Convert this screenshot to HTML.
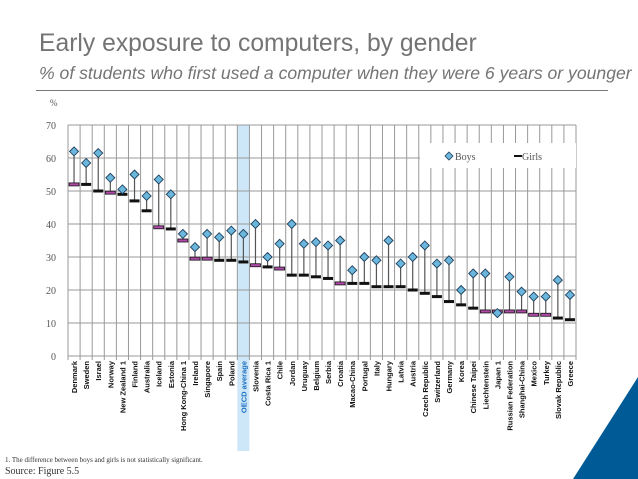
<!DOCTYPE html>
<html><head><meta charset="utf-8"><style>
body{margin:0;width:638px;height:479px;background:#fff;overflow:hidden;position:relative;font-family:"Liberation Sans",sans-serif}
.t{position:absolute;white-space:nowrap}
</style></head><body>
<div class="t" style="left:39px;top:30px;font-size:24.7px;color:#747474">Early exposure to computers, by gender</div>
<div class="t" style="left:39px;top:63px;font-size:17.6px;font-style:italic;color:#747474">% of students who first used a computer when they were 6 years or younger</div>
<div style="position:absolute;left:36px;top:90px;width:572px;height:1px;background:#777"></div>
<svg id="c" width="638" height="479" style="position:absolute;left:0;top:0"></svg>
<div class="t" style="left:5px;top:456px;font-size:7px;color:#333;font-family:'Liberation Serif',serif">1. The difference between boys and girls is not statistically significant.</div>
<div class="t" style="left:5px;top:466px;font-size:10px;color:#333;font-family:'Liberation Serif',serif">Source: Figure 5.5</div>
<svg width="638" height="479" style="position:absolute;left:0;top:0"><polygon points="573,479 638,377 638,479" fill="#005a96"/></svg>
<script>
const categories=["Denmark","Sweden","Israel","Norway","New Zealand 1","Finland","Australia","Iceland","Estonia","Hong Kong-China 1","Ireland","Singapore","Spain","Poland","OECD average","Slovenia","Costa Rica 1","Chile","Jordan","Uruguay","Belgium","Serbia","Croatia","Macao-China","Portugal","Italy","Hungary","Latvia","Austria","Czech Republic","Switzerland","Germany","Korea","Chinese Taipei","Liechtenstein","Japan 1","Russian Federation","Shanghai-China","Mexico","Turkey","Slovak Republic","Greece"];
const boys=[62,58.5,61.5,54,50.5,55,48.5,53.5,49,37,33,37,36,38,37,40,30,34,40,34,34.5,33.5,35,26,30,29,35,28,30,33.5,28,29,20,25,25,13,24,19.5,18,18,23,18.5];
const girls=[52,52,50,49.5,49,47,44,39,38.5,35,29.5,29.5,29,29,28.5,27.5,27,26.5,24.5,24.5,24,23.5,22,22,22,21,21,21,20,19,18,16.5,15.5,14.5,13.5,13.5,13.5,13.5,12.5,12.5,11.5,11];
const girlsHighlighted=[1,0,0,1,0,0,0,1,0,1,1,1,0,0,0,1,0,1,0,0,0,0,1,0,0,0,0,0,0,0,0,0,0,0,1,1,1,1,1,1,0,0];
const yTicks=[0,10,20,30,40,50,60,70];
const NS="http://www.w3.org/2000/svg";
const svg=document.getElementById('c');
const L=68,R=576,T=125,B=356,yMax=70;
const bw=(R-L)/categories.length;
const y=v=>B-(v/yMax)*(B-T);
const x=i=>L+bw*(i+0.5);
function mk(tag,a){const e=document.createElementNS(NS,tag);for(const k in a)e.setAttribute(k,a[k]);svg.appendChild(e);return e;}
const oi=categories.indexOf("OECD average");
let hl=mk('rect',{x:L+bw*oi,y:T,width:bw,height:B-T+95,fill:'#cde7f8'});


yTicks.forEach(t=>{
 let g=mk('line',{x1:L,x2:R,y1:y(t),y2:y(t),stroke:'#999','stroke-width':1});
 
 
 let tx=mk('text',{x:56,y:y(t)+4,'text-anchor':'end','font-size':10,fill:'#555','font-family':'Liberation Serif, serif'});
 tx.textContent=t;
 
 
});
let pu=mk('text',{x:50,y:106,'font-size':9,fill:'#555','font-family':'Liberation Serif, serif'});pu.textContent='%';


for(let i=0;i<=categories.length;i++){
 let g=mk('line',{x1:L+bw*i,x2:L+bw*i,y1:T,y2:B+4,stroke:'#999','stroke-width':1});
 
 
}
let lb=mk('rect',{x:420,y:143,width:156,height:25,fill:'#fff'});


categories.forEach((c,i)=>{
 const cx=x(i);
 let s=mk('line',{x1:cx,x2:cx,y1:y(boys[i]),y2:y(girls[i]),stroke:'#555','stroke-width':1.2});
 
 
 let g=mk('rect',{x:cx-5,y:y(girls[i])-1.5,width:10,height:3,fill:girlsHighlighted[i]?'#b04aa8':'#111',stroke:'#111','stroke-width':girlsHighlighted[i]?0.8:0});
 
 
 const by=y(boys[i]);
 let b=mk('polygon',{points:`${cx},${by-4.5} ${cx+4.5},${by} ${cx},${by+4.5} ${cx-4.5},${by}`,fill:'#6bb6dc',stroke:'#1f3f5a','stroke-width':0.9});
 
 
 let t=mk('text',{x:0,y:0,'text-anchor':'end','font-size':7.5,'font-weight':'bold',fill:c==="OECD average"?'#1a6fc0':'#111',transform:`translate(${cx+3},${B+5}) rotate(-90)`});
 t.textContent=c;
 
 
});
let ld=mk('polygon',{points:'449,152 453,156 449,160 445,156',fill:'#6bb6dc',stroke:'#1f3f5a','stroke-width':0.8});


let lt=mk('text',{x:455,y:160,'font-size':10,fill:'#555','font-family':'Liberation Serif, serif'});lt.textContent='Boys';


let lg=mk('rect',{x:514,y:155,width:8,height:2,fill:'#111'});


let lt2=mk('text',{x:522,y:160,'font-size':10,fill:'#555','font-family':'Liberation Serif, serif'});lt2.textContent='Girls';


</script>
</body></html>
